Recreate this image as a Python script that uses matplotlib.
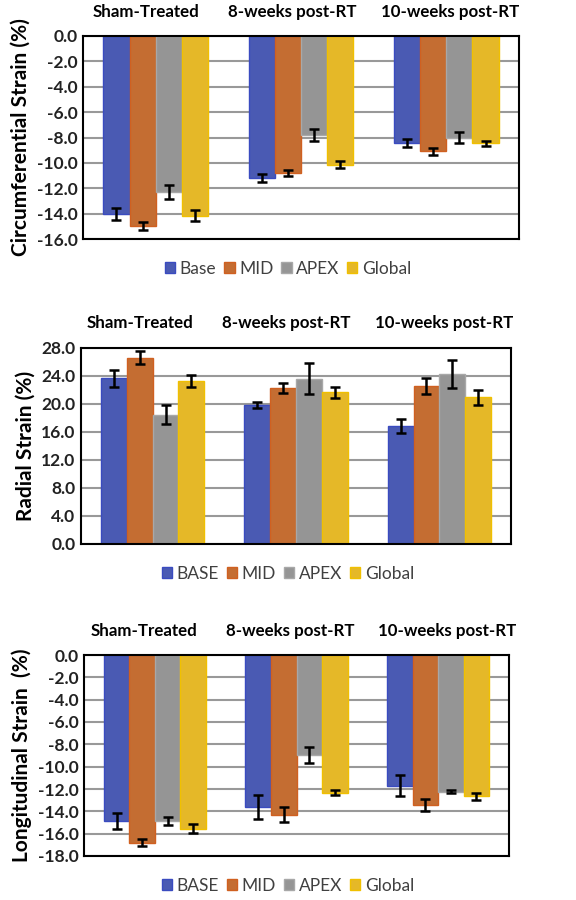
import numpy as np
import matplotlib
matplotlib.use("Agg")
import matplotlib.pyplot as plt

plt.rcParams['font.family'] = ['Lato', 'DejaVu Sans']

groups = ["Sham-Treated", "8-weeks post-RT", "10-weeks post-RT"]

# circumferential strain
circ_labels = ["Base", "MID", "APEX", "Global"]
circ_base = [-14.0, -11.2, -8.45]
circ_mid = [-15.0, -10.8, -9.1]
circ_apex = [-12.3, -7.8, -8.0]
circ_global = [-14.15, -10.15, -8.45]
circ_base_err = [0.47, 0.34, 0.33]
circ_mid_err = [0.33, 0.25, 0.3]
circ_apex_err = [0.56, 0.49, 0.45]
circ_global_err = [0.45, 0.29, 0.2]

# radial strain
rad_labels = ["BASE", "MID", "APEX", "Global"]
rad_base = [23.7, 19.8, 16.85]
rad_mid = [26.6, 22.3, 22.6]
rad_apex = [18.5, 23.6, 24.25]
rad_global = [23.3, 21.65, 20.95]
rad_base_err = [1.2, 0.43, 0.95]
rad_mid_err = [0.95, 0.72, 1.17]
rad_apex_err = [1.34, 2.24, 2.0]
rad_global_err = [0.8, 0.79, 1.03]

# longitudinal strain
lon_labels = ["BASE", "MID", "APEX", "Global"]
lon_base = [-14.85, -13.6, -11.7]
lon_mid = [-16.8, -14.3, -13.45]
lon_apex = [-14.85, -8.95, -12.25]
lon_global = [-15.55, -12.35, -12.65]
lon_base_err = [0.72, 1.06, 0.93]
lon_mid_err = [0.3, 0.67, 0.54]
lon_apex_err = [0.36, 0.7, 0.15]
lon_global_err = [0.39, 0.22, 0.33]

colors = ["#4A5AB3", "#C46D32", "#959595", "#E5B828"]
edges = ["#3A4BC0", "#D06020", "#A8A8A8", "#F0C000"]

W, H = 576, 900
fig = plt.figure(figsize=(5.76, 9), dpi=100)


def panel(rect, series, errs, labels, ylim, yticks, ylabel, legend_y,
          title_y, title_x):
    l, t, r, b = rect
    ax = fig.add_axes([l / W, 1 - b / H, (r - l) / W, (b - t) / H])
    x = np.arange(len(groups))
    bw = 0.18
    for i, (vals, err) in enumerate(zip(series, errs)):
        pos = x + (i - 1.5) * bw
        ax.bar(pos, vals, bw, color=colors[i], edgecolor=edges[i], linewidth=1,
               label=labels[i], zorder=2)
        ax.errorbar(pos, vals, yerr=err, fmt="none", ecolor="black",
                    elinewidth=1.8, capsize=3.5, capthick=1.8, zorder=3)
    ax.set_xlim(-0.5, 2.5)
    ax.set_ylim(*ylim)
    ax.set_yticks(yticks)
    ax.set_yticklabels(["%.1f" % v for v in yticks], fontsize=12.5,
                       fontweight="bold", color="#222222")
    ax.set_xticks([])
    ax.yaxis.grid(True, color="#999999", linewidth=1.5, zorder=0)
    ax.set_axisbelow(True)
    ax.tick_params(axis="y", length=0, pad=4)
    for s in ax.spines.values():
        s.set_linewidth(1.5)
        s.set_color("black")
    ax.set_ylabel(ylabel, fontsize=15, fontweight="bold", labelpad=4)
    for g, gx in zip(groups, title_x):
        fig.text(gx / W, 1 - title_y / H, g,
                 ha="center", va="center", fontsize=12.2, fontweight="bold")
    ax.legend(loc="center", bbox_to_anchor=(0.5, 1 - legend_y / H),
              bbox_transform=fig.transFigure, ncol=4, frameon=False,
              fontsize=12.5, handlelength=0.6, handleheight=0.6,
              handletextpad=0.25, columnspacing=0.45,
              labelcolor="#404040")
    return ax


panel((83, 36, 519, 239),
      [circ_base, circ_mid, circ_apex, circ_global],
      [circ_base_err, circ_mid_err, circ_apex_err, circ_global_err],
      circ_labels, (-16, 0), np.arange(0, -16.1, -2),
      "Circumferential Strain (%)", 269, 12, [146, 292, 450])

panel((81, 348, 511, 544),
      [rad_base, rad_mid, rad_apex, rad_global],
      [rad_base_err, rad_mid_err, rad_apex_err, rad_global_err],
      rad_labels, (0, 28), np.arange(0, 28.1, 4),
      "Radial Strain (%)", 574, 323, [140, 286, 444])

panel((84, 655, 509, 856),
      [lon_base, lon_mid, lon_apex, lon_global],
      [lon_base_err, lon_mid_err, lon_apex_err, lon_global_err],
      lon_labels, (-18, 0), np.arange(0, -18.1, -2),
      "Longitudinal Strain  (%)", 886, 631, [144, 290, 447])

fig.savefig("out.png", dpi=100)
